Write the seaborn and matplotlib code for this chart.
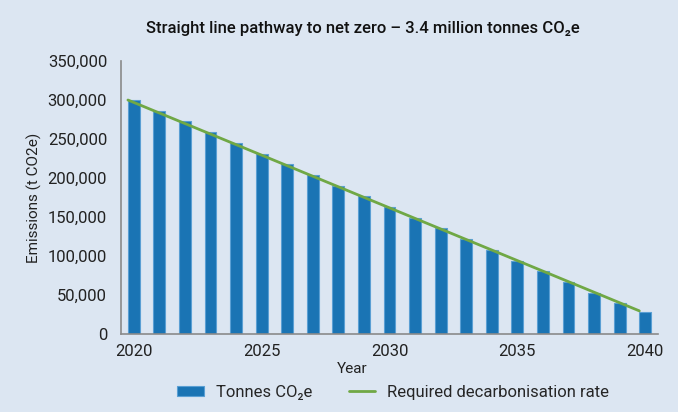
import numpy as np
import pandas as pd
import matplotlib
matplotlib.use('Agg')
import matplotlib.pyplot as plt
from matplotlib.ticker import FuncFormatter, FixedLocator
from matplotlib.patches import Patch
from matplotlib.lines import Line2D
import seaborn as sns

# Values
years = [2020, 2021, 2022, 2023, 2024, 2025, 2026, 2027, 2028, 2029, 2030,
         2031, 2032, 2033, 2034, 2035, 2036, 2037, 2038, 2039, 2040]
tonnes = [300000, 286300, 272600, 258900, 245200, 231500, 217800, 204100,
          190400, 176700, 163000, 149300, 135600, 121900, 108200, 94500,
          80800, 67100, 53400, 39700, 29000]
required_rate = [300000, 286500, 273000, 259500, 246000, 232500, 219000,
                 205500, 192000, 178500, 165000, 151500, 138000, 124500,
                 111000, 97500, 84000, 70500, 57000, 43500, 30000]
year_labels = ['2020', '2025', '2030', '2035', '2040']

bg = '#dce6f2'
bar_col = '#1a74b4'
bar_edge = '#5a9fd4'
line_col = '#70a845'
axis_col = '#8a8a8a'

sns.set_style('white')
plt.rcParams['font.family'] = ['Roboto', 'DejaVu Sans']

df = pd.DataFrame({'Year': years, 'Tonnes': tonnes, 'Rate': required_rate})

fig = plt.figure(figsize=(6.78, 4.12), dpi=100, facecolor=bg)
ax = fig.add_axes([0.1785, 0.1886, 0.792, 0.6634])
ax.set_facecolor(bg)

bar_w = 0.46
sns.barplot(data=df, x='Year', y='Tonnes', color=bar_col, width=bar_w,
            edgecolor=bar_edge, linewidth=0.8, saturation=1, ax=ax)

# the green line runs along the top-left corners of the bars
df['pos'] = np.arange(len(df)) - bar_w / 2
sns.lineplot(data=df, x='pos', y='Rate', color=line_col, linewidth=2.0, ax=ax)

ax.set_xlim(-0.5, len(years) - 0.5)
ax.set_ylim(0, 350000)
ax.set_yticks(np.arange(0, 350001, 50000))
ax.yaxis.set_major_formatter(FuncFormatter(lambda v, p: f'{int(v):,}'))

ax.xaxis.set_major_locator(FixedLocator([years.index(int(y)) for y in year_labels]))
ax.set_xticklabels(year_labels)
ax.xaxis.set_minor_locator(FixedLocator(np.arange(0.5, len(years), 1.0)))

ax.tick_params(axis='x', which='major', length=0, pad=7, labelsize=12, colors='#222222')
ax.tick_params(axis='x', which='minor', direction='in', length=5, width=1.2, color=axis_col)
ax.tick_params(axis='y', which='major', direction='in', length=6, width=1.2, color=axis_col,
               labelsize=12, labelcolor='#222222', pad=10)

for s in ['top', 'right']:
    ax.spines[s].set_visible(False)
for s in ['left', 'bottom']:
    ax.spines[s].set_color(axis_col)
    ax.spines[s].set_linewidth(1.2)

ax.set_xlabel('Year', fontsize=11, color='#222222')
ax.xaxis.set_label_coords(0.43, -0.1)
ax.set_ylabel('Emissions (t CO2e)', fontsize=11, color='#222222')
ax.yaxis.set_label_coords(-0.147, 0.5)

fig.text(0.535, 0.93, 'Straight line pathway to net zero \u2013 3.4 million tonnes CO\u2082e',
         ha='center', va='center', fontsize=12, fontweight='medium', color='#111111')

handles = [Patch(facecolor=bar_col, edgecolor=bar_edge, linewidth=0.8),
           Line2D([0], [0], color=line_col, linewidth=2.0)]
fig.legend(handles, ['Tonnes CO\u2082e', 'Required decarbonisation rate'],
           loc='center', bbox_to_anchor=(0.58, 0.048), ncol=2, frameon=False,
           fontsize=12, handlelength=1.6, handleheight=0.5, columnspacing=2.2,
           handletextpad=0.7)

fig.savefig('out.png', dpi=100, facecolor=bg)
